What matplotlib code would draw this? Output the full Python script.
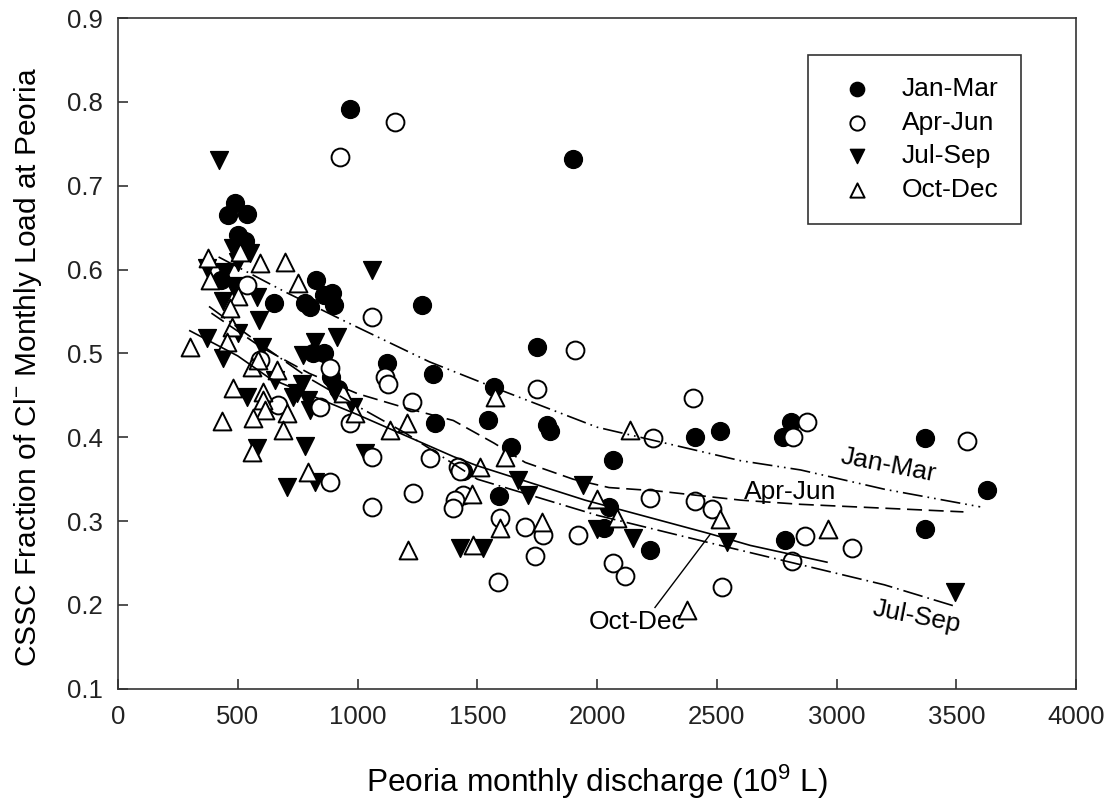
import matplotlib
matplotlib.use("Agg")
import matplotlib.pyplot as plt

plt.rcParams['font.family'] = ['Liberation Sans', 'DejaVu Sans']
plt.rcParams['mathtext.fontset'] = 'custom'
plt.rcParams['mathtext.rm'] = 'Liberation Sans'
plt.rcParams['mathtext.it'] = 'Liberation Sans:italic'

# monthly points: discharge (10^9 L) and CSSC fraction
jan_x = [970, 1900, 490, 460, 540, 500, 530, 430, 650, 825,
         780, 800, 860, 893, 900, 815, 860, 890, 920, 1270,
         1125, 1315, 1750, 1323, 1545, 1570, 1640, 1790, 1805, 1590,
         1440, 2065, 2050, 2030, 2220, 2410, 2515, 2775, 2810, 2785,
         3370, 3370, 3630]
jan_y = [0.791, 0.732, 0.679, 0.665, 0.666, 0.641, 0.634, 0.588, 0.560, 0.588,
         0.560, 0.555, 0.570, 0.572, 0.558, 0.500, 0.500, 0.472, 0.457, 0.558,
         0.489, 0.475, 0.508, 0.417, 0.421, 0.460, 0.388, 0.415, 0.407, 0.330,
         0.360, 0.373, 0.317, 0.292, 0.265, 0.400, 0.407, 0.400, 0.418, 0.278,
         0.399, 0.290, 0.337]

apr_x = [1157, 927, 538, 1060, 885, 1115, 1127, 1227, 843, 969,
         1060, 1303, 1232, 1060, 885, 1420, 1430, 1440, 1407, 1399,
         668, 593, 1908, 1749, 2401, 2234, 2818, 2876, 3544, 2221,
         2409, 2480, 1595, 1699, 1774, 1920, 1741, 1587, 2067, 2117,
         2522, 2814, 2868, 3064]
apr_y = [0.776, 0.734, 0.582, 0.544, 0.483, 0.472, 0.463, 0.442, 0.436, 0.417,
         0.377, 0.375, 0.334, 0.317, 0.347, 0.364, 0.360, 0.331, 0.325, 0.316,
         0.439, 0.492, 0.504, 0.457, 0.447, 0.399, 0.400, 0.418, 0.395, 0.328,
         0.324, 0.314, 0.304, 0.293, 0.284, 0.284, 0.258, 0.227, 0.250, 0.234,
         0.221, 0.252, 0.282, 0.268]

jul_x = [420, 480, 550, 500, 372, 447, 480, 580, 438, 590,
         1060, 372, 501, 438, 601, 822, 914, 773, 655, 538,
         768, 731, 793, 801, 981, 580, 781, 1031, 705, 822,
         1670, 1712, 1942, 1999, 2150, 2543, 1428, 1524, 3494, 747,
         900]
jul_y = [0.731, 0.626, 0.620, 0.609, 0.602, 0.597, 0.580, 0.567, 0.562, 0.540,
         0.600, 0.518, 0.524, 0.495, 0.508, 0.514, 0.519, 0.498, 0.468, 0.448,
         0.463, 0.448, 0.445, 0.433, 0.436, 0.387, 0.389, 0.381, 0.341, 0.347,
         0.349, 0.331, 0.343, 0.290, 0.280, 0.275, 0.268, 0.268, 0.215, 0.453,
         0.455]

oct_x = [376, 509, 593, 697, 751, 384, 501, 468, 476, 301,
         455, 559, 664, 585, 480, 605, 605, 614, 564, 434,
         705, 689, 939, 990, 1136, 1206, 1511, 1478, 560, 793,
         1211, 1482, 1574, 2138, 1616, 1595, 1770, 2000, 2083, 2513,
         2376, 2964]
oct_y = [0.614, 0.621, 0.608, 0.609, 0.584, 0.588, 0.568, 0.554, 0.532, 0.508,
         0.514, 0.484, 0.480, 0.492, 0.459, 0.454, 0.445, 0.433, 0.423, 0.419,
         0.429, 0.409, 0.453, 0.429, 0.409, 0.417, 0.364, 0.332, 0.382, 0.359,
         0.265, 0.272, 0.448, 0.409, 0.376, 0.292, 0.299, 0.326, 0.304, 0.302,
         0.194, 0.290]

# smoothed trend lines
jan_fit_x = [420, 600, 700, 950, 1300, 1600, 2000, 2150, 2600, 2850, 3200, 3600]
jan_fit_y = [0.615, 0.588, 0.573, 0.538, 0.490, 0.456, 0.412, 0.402, 0.372, 0.361, 0.338, 0.317]

apr_fit_x = [390, 600, 800, 1000, 1200, 1400, 1570, 1700, 1900, 2050, 2250, 2600, 2850, 3530]
apr_fit_y = [0.548, 0.507, 0.476, 0.452, 0.435, 0.420, 0.393, 0.370, 0.350, 0.340, 0.336, 0.325, 0.320, 0.311]

jul_fit_x = [380, 600, 800, 1000, 1200, 1500, 2000, 2500, 2850, 3200, 3500]
jul_fit_y = [0.556, 0.510, 0.470, 0.437, 0.405, 0.350, 0.307, 0.272, 0.248, 0.224, 0.198]

oct_fit_x = [300, 500, 635, 1000, 1400, 1500, 1950, 2470, 2640, 2960]
oct_fit_y = [0.527, 0.497, 0.470, 0.427, 0.377, 0.366, 0.325, 0.285, 0.271, 0.251]

fig = plt.figure(figsize=(11.1, 8), dpi=100)
ax = fig.add_axes([0.1063, 0.139, 0.8631, 0.8385])

ms = 165
h_jan = ax.scatter(jan_x, jan_y, s=ms, marker='o', c='black', zorder=3, label='Jan-Mar')
h_jul = ax.scatter(jul_x, jul_y, s=ms, marker='v', c='black', zorder=3, label='Jul-Sep')
h_apr = ax.scatter(apr_x, apr_y, s=ms, marker='o', facecolors='white', edgecolors='black',
                   linewidths=1.4, zorder=4, label='Apr-Jun')
h_oct = ax.scatter(oct_x, oct_y, s=ms, marker='^', facecolors='white', edgecolors='black',
                   linewidths=1.4, zorder=4, label='Oct-Dec')

lw = 1.2
ax.plot(jan_fit_x, jan_fit_y, color='black', lw=lw, dashes=(12, 3, 1, 3, 1, 3), zorder=5)
ax.plot(apr_fit_x, apr_fit_y, color='black', lw=lw, dashes=(9, 4), zorder=5)
ax.plot(jul_fit_x, jul_fit_y, color='black', lw=lw, dashes=(12, 3, 1, 3), zorder=5)
ax.plot(oct_fit_x, oct_fit_y, color='black', lw=lw, zorder=5)

# curve labels
fs_lab = 19
ax.text(3215, 0.367, 'Jan-Mar', fontsize=fs_lab, rotation=-11, ha='center', va='center')
ax.text(2805, 0.335, 'Apr-Jun', fontsize=fs_lab, ha='center', va='center')
ax.text(3336, 0.186, 'Jul-Sep', fontsize=fs_lab, rotation=-11, ha='center', va='center')
ax.text(2167, 0.180, 'Oct-Dec', fontsize=fs_lab, ha='center', va='center')
ax.plot([2242, 2472], [0.197, 0.284], color='black', lw=1.0, zorder=5)

ax.set_xlim(0, 4000)
ax.set_ylim(0.1, 0.9)
ax.set_xticks(range(0, 4001, 500))
ax.set_yticks([0.1, 0.2, 0.3, 0.4, 0.5, 0.6, 0.7, 0.8, 0.9])
ax.set_yticklabels(['0.1', '0.2', '0.3', '0.4', '0.5', '0.6', '0.7', '0.8', '0.9'])
ax.tick_params(direction='in', length=7, width=1.1, labelsize=18.5, pad=11, colors='#222222')
ax.tick_params(axis='x', pad=12)
for sp in ax.spines.values():
    sp.set_linewidth(1.2)
    sp.set_color('#333333')

ax.set_xlabel('Peoria monthly discharge (10$^9$ L)', fontsize=22.8, labelpad=24)
ax.set_ylabel('CSSC Fraction of Cl$^{-}$ Monthly Load at Peoria', fontsize=21.5)
ax.yaxis.set_label_coords(-0.077, 0.48)

leg = ax.legend(handles=[h_jan, h_apr, h_jul, h_oct], loc='upper left',
                bbox_to_anchor=(0.72, 0.945), fontsize=19, frameon=True,
                fancybox=False, edgecolor='black', borderpad=0.85, labelspacing=0.36,
                handletextpad=0.7, borderaxespad=0, markerscale=0.8)
leg.get_frame().set_linewidth(1.2)

fig.savefig('out.png', dpi=100)
